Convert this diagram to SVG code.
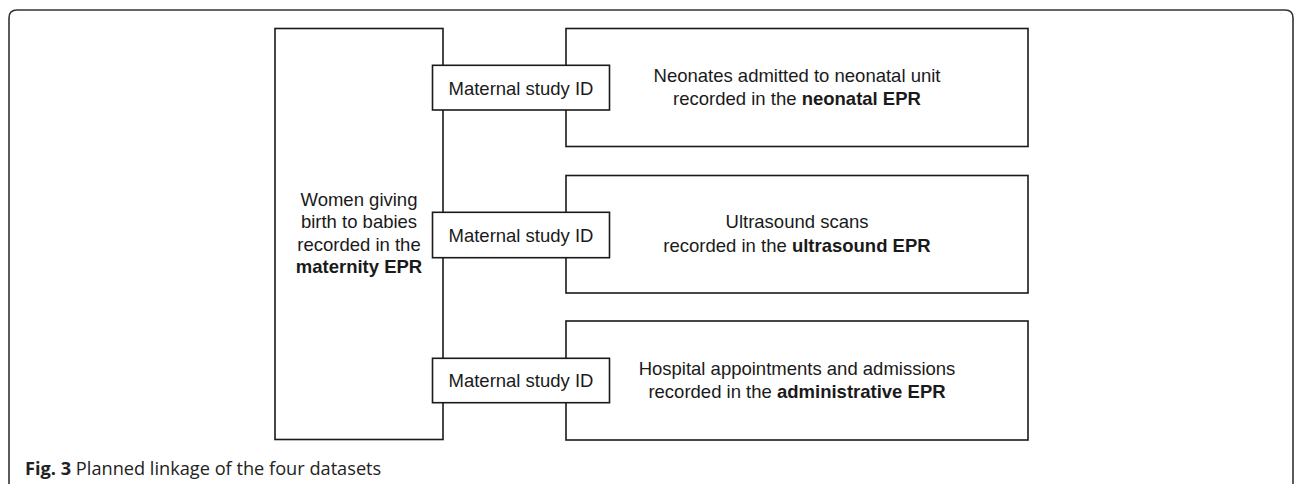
<svg xmlns="http://www.w3.org/2000/svg" width="1295" height="484" viewBox="0 0 1295 484">
<style>
.box{fill:#fff;stroke:#1a1a1a;stroke-width:1.6}
.t{font-family:"Liberation Sans",Arial,sans-serif;font-size:18.5px;fill:#1a1a1a;text-anchor:middle}
.b{font-weight:bold}
.cap{font-family:"Open Sans","Liberation Sans",sans-serif;font-size:18.2px;fill:#222}
</style>
<rect width="1295" height="484" fill="#fff"/>
<path d="M9,494 V18 Q9,10 17,10 H1285 Q1293,10 1293,18 V494" fill="none" stroke="#333" stroke-width="1.6"/>
<g id="maternity">
<rect class="box" x="275" y="28.5" width="168" height="411"/>
<text class="t" x="359" y="205.7">Women giving</text>
<text class="t" x="359" y="228.3">birth to babies</text>
<text class="t" x="359" y="250.7">recorded in the</text>
<text class="t b" x="359" y="273.3">maternity EPR</text>
</g>
<g id="neonatal">
<rect class="box" x="566" y="28.5" width="462" height="118"/>
<text class="t" x="797" y="81.7">Neonates admitted to neonatal unit</text>
<text class="t" x="797" y="105">recorded in the <tspan class="b">neonatal EPR</tspan></text>
</g>
<g id="ultrasound">
<rect class="box" x="566" y="175.5" width="462" height="117.5"/>
<text class="t" x="797" y="227.7">Ultrasound scans</text>
<text class="t" x="797" y="251.7">recorded in the <tspan class="b">ultrasound EPR</tspan></text>
</g>
<g id="administrative">
<rect class="box" x="566" y="321" width="462" height="119"/>
<text class="t" x="797" y="375">Hospital appointments and admissions</text>
<text class="t" x="797" y="398.3">recorded in the <tspan class="b">administrative EPR</tspan></text>
</g>
<g id="connectors">
<g id="link1">
<rect class="box" x="432.5" y="65.3" width="177" height="44.7"/>
<text class="t" x="521" y="95">Maternal study ID</text>
</g>
<g id="link2">
<rect class="box" x="432.5" y="212.3" width="177" height="45.4"/>
<text class="t" x="521" y="241.7">Maternal study ID</text>
</g>
<g id="link3">
<rect class="box" x="432.5" y="358.3" width="177" height="44.4"/>
<text class="t" x="521" y="387.3">Maternal study ID</text>
</g>
</g>
<text class="cap" x="25" y="475"><tspan font-weight="bold">Fig. 3</tspan> Planned linkage of the four datasets</text>
</svg>
